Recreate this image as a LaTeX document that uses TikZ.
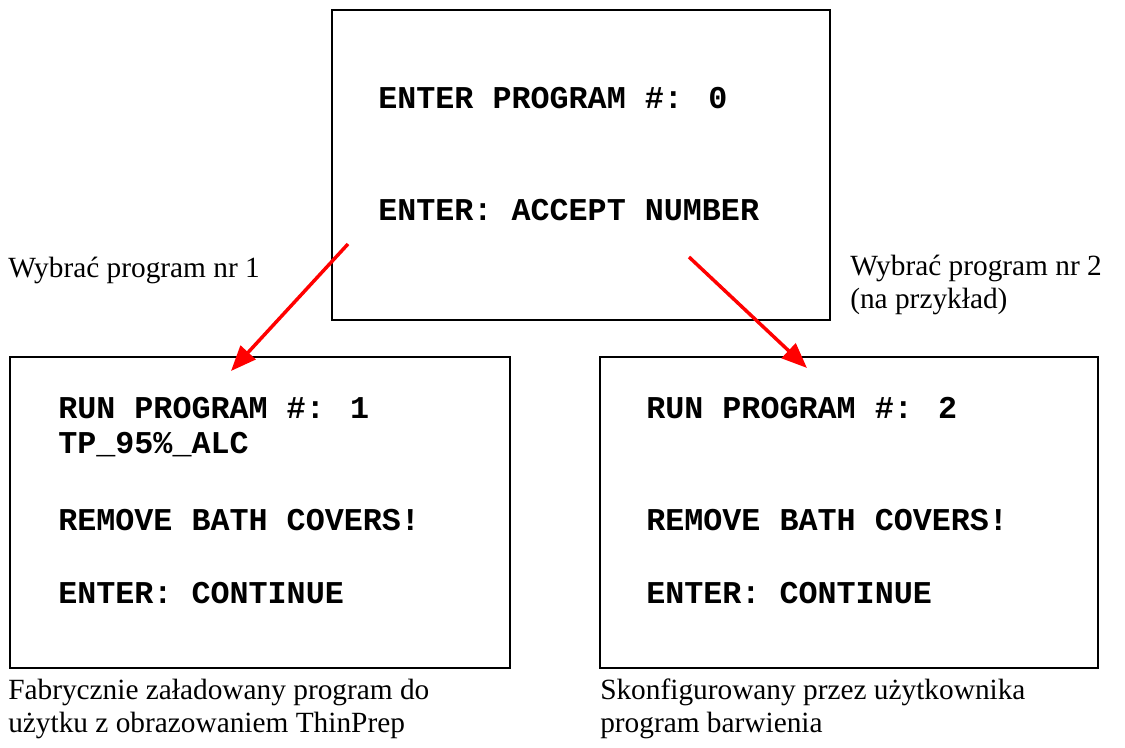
\documentclass[tikz,border=0pt]{standalone}
\usepackage{fontspec}
\setmainfont{Liberation Serif}
\newfontfamily\screenfont{Liberation Mono}
\usepackage{xcolor}
\usetikzlibrary{arrows.meta}
\definecolor{arrowred}{HTML}{FF0000}
\tikzset{
  screen/.style={draw=black, line width=1.5pt, inner sep=0pt},
  scr/.style={anchor=west, inner sep=0pt, font=\screenfont\bfseries\fontsize{23.8}{28}\selectfont},
  lab/.style={anchor=west, inner sep=0pt, align=left, font=\fontsize{22}{24.75}\selectfont},
  pick/.style={draw=arrowred, line width=2.6pt, -{Triangle[length=19pt,width=15pt]}},
}

\begin{document}
\begin{tikzpicture}[x=0.75pt,y=-0.75pt]
\useasboundingbox (0,0) rectangle (1125,748);
% screens
\node[screen, minimum width=373.5pt, minimum height=232.5pt] (top) at (581,165) {};
\node[screen, minimum width=375pt, minimum height=233pt] (left) at (260,512.5) {};
\node[screen, minimum width=373.5pt, minimum height=233pt] (right) at (849,512.5) {};

% top screen text
\node[scr] (t1) at (378,98) {ENTER PROGRAM \#: 0};
\node[scr] (t2) at (378,210) {ENTER: ACCEPT NUMBER};

% left screen text
\node[scr] (l1) at (58,408) {RUN PROGRAM \#: 1};
\node[scr] (l2) at (58,445) {TP\_95\%\_ALC};
\node[scr] (l3) at (58,520) {REMOVE BATH COVERS!};
\node[scr] (l4) at (58,593) {ENTER: CONTINUE};

% right screen text
\node[scr] (r1) at (646,408) {RUN PROGRAM \#: 2};
\node[scr] (r3) at (646,520) {REMOVE BATH COVERS!};
\node[scr] (r4) at (646,593) {ENTER: CONTINUE};

% captions
\node[lab] (pick1) at (8,270) {Wybrać program nr 1};
\node[lab] (pick2) at (850,285) {Wybrać program nr 2\\(na przykład)};
\node[lab] (capl) at (8,709) {Fabrycznie załadowany program do\\użytku z obrazowaniem ThinPrep};
\node[lab] (capr) at (600,709) {Skonfigurowany przez użytkownika\\program barwienia};

% arrows
\coordinate (fromL) at (348,244);
\coordinate (toL) at (231,371);
\coordinate (fromR) at (689,257);
\coordinate (toR) at (807,368);
\draw[pick] (fromL) -- (toL);
\draw[pick] (fromR) -- (toR);
\end{tikzpicture}
\end{document}
